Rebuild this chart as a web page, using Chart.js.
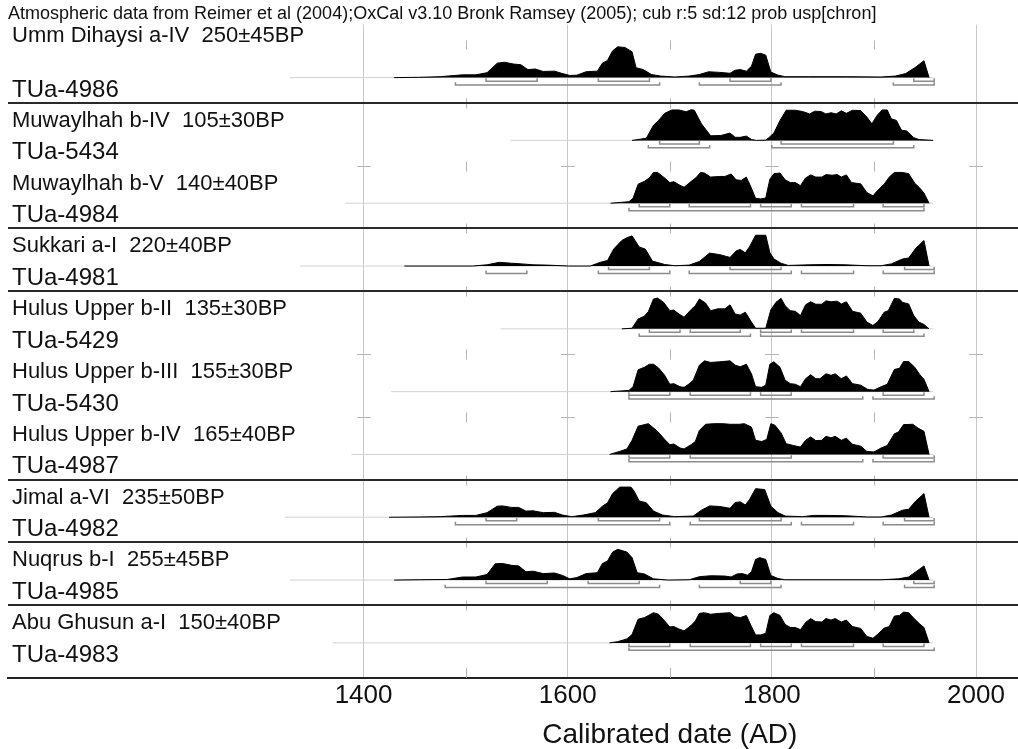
<!DOCTYPE html>
<html>
<head>
<meta charset="utf-8">
<script src="https://cdn.jsdelivr.net/npm/chart.js@4.4.1/dist/chart.umd.min.js"></script>
<style>
  html, body { margin: 0; padding: 0; background: #fff; }
  #wrap { width: 1018px; height: 749px; }
</style>
</head>
<body>
<div id="wrap"><canvas id="chart"></canvas></div>
<script>
const headerText = "Atmospheric data from Reimer et al (2004);OxCal v3.10 Bronk Ramsey (2005); cub r:5 sd:12 prob usp[chron]";
const axisTitle = "Calibrated date (AD)";

// one entry per sample, top to bottom
const sampleNames = [
  "Umm Dihaysi a-IV  250\u00b145BP",
  "Muwaylhah b-IV  105\u00b130BP",
  "Muwaylhah b-V  140\u00b140BP",
  "Sukkari a-I  220\u00b140BP",
  "Hulus Upper b-II  135\u00b130BP",
  "Hulus Upper b-III  155\u00b130BP",
  "Hulus Upper b-IV  165\u00b140BP",
  "Jimal a-VI  235\u00b150BP",
  "Nuqrus b-I  255\u00b145BP",
  "Abu Ghusun a-I  150\u00b140BP"
];
const labCodes = ["TUa-4986", "TUa-5434", "TUa-4984", "TUa-4981", "TUa-5429",
                  "TUa-5430", "TUa-4987", "TUa-4982", "TUa-4985", "TUa-4983"];
// a dark rule closes the group after these entries (0-based)
const groupEnds = [0, 2, 3, 6, 7, 8];

const tickYears = [1400, 1600, 1800, 2000];
const minorYears = [1500, 1700, 1900];

// calibrated probability, [year AD, relative probability]
const ummDihaysi = [[1430,0],[1454,0.01],[1475,0.03],[1497,0.09],[1510,0.09],[1521,0.16],[1531,0.47],[1538,0.5],[1547,0.44],[1554,0.42],[1561,0.26],[1568,0.28],[1576,0.2],[1587,0.21],[1594,0.14],[1602,0.07],[1609,0.08],[1618,0.19],[1629,0.21],[1634,0.47],[1639,0.56],[1644,0.87],[1649,1],[1656,0.98],[1663,0.84],[1667,0.32],[1674,0.26],[1682,0.1],[1691,0.05],[1705,0.02],[1719,0.05],[1729,0.1],[1738,0.19],[1749,0.17],[1759,0.14],[1764,0.24],[1769,0.26],[1775,0.21],[1780,0.37],[1784,0.76],[1789,0.79],[1794,0.73],[1799,0.18],[1806,0.08],[1813,0.03],[1837,0.03],[1872,0.03],[1907,0.02],[1921,0.05],[1931,0.13],[1940,0.32],[1949,0.55],[1954,0]];
const muwaylhahB4 = [[1663,0],[1677,0.07],[1684,0.49],[1689,0.65],[1695,0.88],[1702,0.99],[1709,0.99],[1716,0.93],[1721,1],[1724,0.98],[1731,0.54],[1740,0.15],[1750,0.16],[1759,0.24],[1764,0.1],[1769,0.1],[1775,0.14],[1780,0.03],[1785,0],[1794,0.01],[1797,0.09],[1802,0.24],[1808,0.65],[1814,0.98],[1823,0.98],[1830,0.94],[1837,0.86],[1842,0.95],[1848,0.94],[1853,0.86],[1858,0.9],[1863,0.86],[1868,0.96],[1873,0.88],[1879,0.98],[1887,0.97],[1893,0.76],[1898,0.54],[1903,0.81],[1908,0.99],[1913,0.99],[1917,0.7],[1922,0.65],[1927,0.33],[1932,0.31],[1939,0.09],[1944,0.03],[1958,0]];
const muwaylhahB5 = [[1642,0],[1660,0.05],[1664,0.16],[1669,0.62],[1675,0.71],[1680,0.82],[1684,1],[1688,1],[1695,0.82],[1700,0.67],[1704,0.7],[1709,0.6],[1714,0.52],[1721,0.71],[1726,0.84],[1730,1],[1734,0.98],[1740,0.85],[1749,0.87],[1754,0.87],[1760,0.95],[1765,0.76],[1770,0.74],[1775,0.85],[1780,0.49],[1784,0.16],[1789,0.14],[1794,0.17],[1798,0.78],[1802,0.96],[1808,0.98],[1813,0.76],[1818,0.67],[1823,0.67],[1828,0.57],[1833,0.82],[1838,0.92],[1843,0.85],[1849,0.85],[1853,0.93],[1859,0.91],[1864,0.93],[1868,0.85],[1873,0.92],[1878,0.67],[1887,0.63],[1893,0.35],[1899,0.24],[1904,0.43],[1910,0.62],[1915,0.85],[1920,1],[1928,1],[1934,0.96],[1940,0.65],[1945,0.49],[1949,0.33],[1954,0]];
const sukkariA1 = [[1440,0],[1507,0],[1521,0.04],[1533,0.12],[1545,0.09],[1555,0.07],[1566,0.04],[1580,0.03],[1601,0],[1622,0],[1632,0.12],[1639,0.18],[1645,0.55],[1653,0.83],[1658,0.92],[1663,0.98],[1670,0.62],[1676,0.55],[1683,0.16],[1695,0.05],[1705,0.01],[1719,0.03],[1729,0.15],[1739,0.42],[1749,0.37],[1759,0.28],[1765,0.49],[1769,0.54],[1774,0.43],[1778,0.62],[1784,1],[1794,1],[1798,0.44],[1802,0.23],[1809,0.09],[1816,0.02],[1837,0.04],[1854,0.05],[1872,0.04],[1893,0.01],[1907,0.01],[1917,0.07],[1928,0.23],[1934,0.26],[1941,0.58],[1949,0.83],[1954,0]];
const hulusB2 = [[1653,0],[1663,0.02],[1669,0.32],[1675,0.41],[1679,0.56],[1684,0.97],[1688,1],[1694,0.86],[1700,0.59],[1704,0.61],[1709,0.48],[1714,0.38],[1721,0.63],[1725,0.75],[1729,0.97],[1735,0.84],[1740,0.59],[1747,0.65],[1754,0.65],[1759,0.78],[1764,0.48],[1769,0.45],[1774,0.54],[1780,0.22],[1784,0.02],[1794,0.02],[1799,0.62],[1804,0.86],[1809,0.99],[1813,0.75],[1818,0.59],[1823,0.57],[1828,0.43],[1833,0.78],[1838,0.88],[1843,0.8],[1849,0.8],[1853,0.91],[1858,0.88],[1864,0.9],[1868,0.81],[1873,0.88],[1879,0.57],[1887,0.51],[1893,0.22],[1899,0.11],[1904,0.24],[1910,0.54],[1914,0.59],[1920,0.99],[1925,0.97],[1928,0.86],[1934,0.81],[1939,0.43],[1944,0.22],[1949,0.14],[1954,0]];
const hulusB3 = [[1642,0],[1660,0.04],[1664,0.16],[1669,0.71],[1675,0.79],[1680,0.89],[1684,0.89],[1689,0.77],[1695,0.53],[1700,0.24],[1704,0.26],[1710,0.16],[1714,0.14],[1718,0.23],[1723,0.37],[1729,0.86],[1734,1],[1740,0.95],[1749,0.97],[1759,1],[1764,0.86],[1769,0.81],[1775,0.89],[1780,0.58],[1784,0.16],[1790,0.14],[1794,0.21],[1798,0.89],[1802,0.97],[1808,0.79],[1813,0.37],[1818,0.26],[1823,0.24],[1828,0.16],[1833,0.42],[1838,0.55],[1843,0.42],[1847,0.42],[1853,0.58],[1858,0.53],[1862,0.58],[1868,0.42],[1873,0.51],[1879,0.26],[1887,0.21],[1894,0.07],[1900,0.05],[1907,0.16],[1913,0.24],[1920,0.72],[1925,0.76],[1929,0.98],[1934,0.98],[1940,0.79],[1945,0.55],[1949,0.4],[1954,0]];
const hulusB4 = [[1641,0],[1651,0.1],[1658,0.18],[1663,0.46],[1669,0.92],[1679,1],[1688,0.75],[1695,0.49],[1700,0.32],[1704,0.34],[1710,0.21],[1714,0.18],[1721,0.32],[1725,0.42],[1729,0.78],[1735,0.98],[1743,1],[1752,1],[1759,0.98],[1768,0.98],[1773,1],[1780,0.89],[1784,0.46],[1790,0.42],[1795,0.49],[1799,1],[1803,0.95],[1809,0.7],[1814,0.35],[1821,0.29],[1828,0.24],[1833,0.46],[1838,0.57],[1843,0.45],[1849,0.46],[1853,0.59],[1858,0.54],[1862,0.59],[1868,0.46],[1873,0.53],[1879,0.33],[1887,0.27],[1893,0.1],[1900,0.08],[1907,0.21],[1913,0.29],[1920,0.67],[1924,0.73],[1929,0.97],[1938,0.98],[1943,0.86],[1949,0.75],[1954,0]];
const jimalA6 = [[1425,0],[1455,0.01],[1475,0.02],[1497,0.06],[1510,0.06],[1521,0.15],[1531,0.36],[1536,0.37],[1545,0.32],[1552,0.32],[1559,0.2],[1566,0.21],[1576,0.15],[1587,0.16],[1595,0.07],[1604,0.02],[1615,0.07],[1627,0.15],[1634,0.36],[1639,0.47],[1644,0.77],[1651,0.98],[1662,0.98],[1665,0.85],[1670,0.53],[1677,0.47],[1684,0.2],[1693,0.07],[1705,0.02],[1723,0.04],[1731,0.23],[1739,0.37],[1749,0.35],[1759,0.29],[1764,0.48],[1769,0.5],[1774,0.4],[1778,0.57],[1784,0.93],[1793,0.9],[1799,0.36],[1806,0.15],[1813,0.04],[1830,0.02],[1841,0.06],[1854,0.06],[1872,0.05],[1893,0.01],[1907,0.01],[1917,0.07],[1928,0.23],[1934,0.26],[1941,0.53],[1949,0.77],[1954,0]];
const nuqrusB1 = [[1430,0],[1455,0.01],[1482,0.02],[1497,0.1],[1510,0.1],[1521,0.18],[1529,0.53],[1536,0.54],[1545,0.48],[1552,0.46],[1559,0.27],[1566,0.29],[1576,0.21],[1587,0.23],[1595,0.15],[1602,0.04],[1609,0.08],[1618,0.21],[1629,0.24],[1634,0.54],[1639,0.62],[1644,0.91],[1649,1],[1658,0.91],[1663,0.73],[1668,0.24],[1675,0.2],[1684,0.04],[1698,0],[1719,0.01],[1729,0.11],[1740,0.14],[1754,0.13],[1760,0.1],[1766,0.2],[1771,0.21],[1776,0.16],[1780,0.27],[1784,0.67],[1788,0.73],[1794,0.67],[1799,0.15],[1806,0.05],[1813,0.01],[1907,0.01],[1924,0.04],[1934,0.1],[1949,0.46],[1954,0]];
const abuGhusunA1 = [[1641,0],[1649,0.04],[1658,0.13],[1663,0.27],[1669,0.77],[1675,0.82],[1679,0.89],[1684,0.98],[1689,0.93],[1695,0.71],[1700,0.52],[1704,0.53],[1709,0.45],[1714,0.39],[1721,0.57],[1725,0.71],[1729,0.96],[1734,0.98],[1740,0.93],[1749,0.96],[1759,0.98],[1764,0.85],[1769,0.82],[1775,0.89],[1780,0.53],[1784,0.26],[1789,0.26],[1794,0.31],[1798,0.89],[1802,0.98],[1808,0.89],[1813,0.6],[1818,0.5],[1823,0.5],[1828,0.43],[1833,0.66],[1838,0.79],[1843,0.69],[1849,0.68],[1853,0.79],[1858,0.74],[1862,0.79],[1868,0.68],[1873,0.74],[1879,0.53],[1887,0.47],[1893,0.21],[1899,0.15],[1904,0.29],[1910,0.48],[1915,0.53],[1920,0.87],[1925,0.89],[1929,1],[1934,0.98],[1940,0.77],[1945,0.61],[1949,0.5],[1954,0]];

const curves = [ummDihaysi, muwaylhahB4, muwaylhahB5, sukkariA1, hulusB2,
                hulusB3, hulusB4, jimalA6, nuqrusB1, abuGhusunA1];

// 68.2% and 95.4% ranges per entry
const ranges68 = [
  [[1520,1570],[1630,1680],[1759,1799],[1939,1959]],
  [[1690,1729],[1809,1919]],
  [[1670,1700],[1719,1779],[1789,1819],[1829,1880],[1909,1949]],
  [[1640,1680],[1759,1809],[1930,1959]],
  [[1680,1710],[1720,1769],[1789,1819],[1829,1880],[1909,1939]],
  [[1660,1700],[1720,1779],[1789,1819],[1909,1949]],
  [[1660,1700],[1720,1819],[1909,1959]],
  [[1520,1550],[1630,1690],[1729,1809],[1930,1959]],
  [[1520,1580],[1620,1670],[1769,1799],[1939,1959]],
  [[1660,1700],[1720,1779],[1789,1819],[1829,1880],[1909,1949]]
];
const ranges95 = [
  [[1490,1690],[1729,1809],[1919,1959]],
  [[1679,1739],[1800,1939]],
  [[1660,1949]],
  [[1520,1560],[1630,1700],[1719,1819],[1829,1880],[1909,1959]],
  [[1670,1779],[1789,1949]],
  [[1660,1889],[1899,1959]],
  [[1660,1889],[1899,1959]],
  [[1490,1700],[1720,1819],[1829,1880],[1909,1959]],
  [[1480,1690],[1729,1809],[1930,1959]],
  [[1660,1959]]
];

// extent of the thin line under each curve
const lineStart = [1328, 1544, 1382, 1338, 1534, 1427, 1388, 1323, 1328, 1370];
const lineEnd = 1958;

// layout in entry units (one entry = 1)
const ROW_BASE = 0.6;
const PEAK = 0.49;
const BR68 = 0.056;
const BR95 = 0.118;
const SERIF = 0.045;
const FONT = '"Liberation Sans", Arial, sans-serif';

const datasets = [];

curves.forEach((c, i) => {
  const base = i + ROW_BASE;
  datasets.push({
    data: c.map(([x, p]) => ({ x, y: base - p * PEAK })),
    fill: { value: base },
    backgroundColor: "#000",
    borderColor: "#000",
    borderWidth: 1,
    pointRadius: 0,
    tension: 0,
    order: 1
  });
});

function bracketPoints(list, y) {
  const pts = [];
  list.forEach(([a, b]) => {
    pts.push({ x: a, y: y - SERIF }, { x: a, y }, { x: b, y }, { x: b, y: y - SERIF }, { x: b, y: null });
  });
  return pts;
}

curves.forEach((c, i) => {
  const base = i + ROW_BASE;
  [[ranges68[i], BR68], [ranges95[i], BR95]].forEach(([list, off]) => {
    datasets.push({
      data: bracketPoints(list, base + off),
      borderColor: "#8c8c8c",
      borderWidth: 1.5,
      pointRadius: 0,
      fill: false,
      spanGaps: false,
      order: 0
    });
  });
  datasets.push({
    data: [{ x: lineStart[i], y: base }, { x: lineEnd, y: base }],
    borderColor: "#d2d2d2",
    borderWidth: 1,
    pointRadius: 0,
    fill: false,
    order: 3
  });
});

// rules, small marks, labels and the axis title
const decor = {
  id: "decor",
  afterDatasetsDraw(chart) {
    const { ctx, chartArea: a, scales: { x, y } } = chart;
    ctx.save();

    ctx.strokeStyle = "#b4b4b4";
    ctx.lineWidth = 1;
    for (let i = 0; i < curves.length; i++) {
      const py = Math.round(y.getPixelForValue(i)) + 0.5;
      minorYears.forEach(yr => {
        const px = Math.round(x.getPixelForValue(yr)) + 0.5;
        ctx.beginPath();
        ctx.moveTo(px, i === 0 ? py : py - 5);
        ctx.lineTo(px, i === 0 ? py + 9 : py + 5);
        ctx.stroke();
      });
      if (i > 0) {
        tickYears.forEach(yr => {
          const px = Math.round(x.getPixelForValue(yr));
          ctx.beginPath();
          ctx.moveTo(px - 7, py);
          ctx.lineTo(px + 7, py);
          ctx.stroke();
        });
      }
    }
    minorYears.forEach(yr => {
      const px = Math.round(x.getPixelForValue(yr)) + 0.5;
      ctx.beginPath();
      ctx.moveTo(px, a.bottom - 10);
      ctx.lineTo(px, a.bottom);
      ctx.stroke();
    });

    ctx.strokeStyle = "#2a2a2a";
    ctx.lineWidth = 2;
    groupEnds.forEach(g => {
      const py = Math.round(y.getPixelForValue(g + 1));
      ctx.beginPath();
      ctx.moveTo(a.left, py);
      ctx.lineTo(a.right, py);
      ctx.stroke();
    });

    ctx.fillStyle = "#111";
    ctx.textBaseline = "middle";
    ctx.textAlign = "left";
    sampleNames.forEach((name, i) => {
      const top = y.getPixelForValue(i);
      ctx.font = "22px " + FONT;
      ctx.fillText(name, a.left + 4, i === 0 ? a.top + 11 : top + 18);
      ctx.font = "24px " + FONT;
      ctx.fillText(labCodes[i], a.left + 4, top + 50);
    });

    // axis title sits under the middle of the labelled span
    const mid = (tickYears[0] + tickYears[tickYears.length - 1]) / 2;
    ctx.font = "28px " + FONT;
    ctx.textAlign = "center";
    ctx.fillText(axisTitle, x.getPixelForValue(mid), a.bottom + 57);
    ctx.restore();
  }
};

new Chart(document.getElementById("chart"), {
  type: "line",
  data: { datasets },
  plugins: [decor],
  options: {
    responsive: true,
    maintainAspectRatio: false,
    animation: false,
    layout: { padding: { left: 8, right: 0, top: 0, bottom: 36 } },
    plugins: {
      legend: { display: false },
      tooltip: { enabled: false },
      title: {
        display: true,
        text: headerText,
        align: "start",
        color: "#111",
        font: { family: FONT, size: 18, weight: "normal" },
        padding: { top: 3, bottom: 0 }
      }
    },
    scales: {
      x: {
        type: "linear",
        min: 1051.7,
        max: 2041.1,
        afterBuildTicks: scale => { scale.ticks = tickYears.map(v => ({ value: v })); },
        grid: { color: "#c8c8c8", lineWidth: 1, drawTicks: false },
        border: { display: true, color: "#222", width: 2 },
        ticks: {
          padding: 2,
          color: "#111",
          font: { family: FONT, size: 26 },
          callback: v => String(v)
        }
      },
      y: {
        type: "linear",
        min: -0.244,
        max: 10.156,
        reverse: true,
        display: false
      }
    }
  }
});
</script>
</body>
</html>
